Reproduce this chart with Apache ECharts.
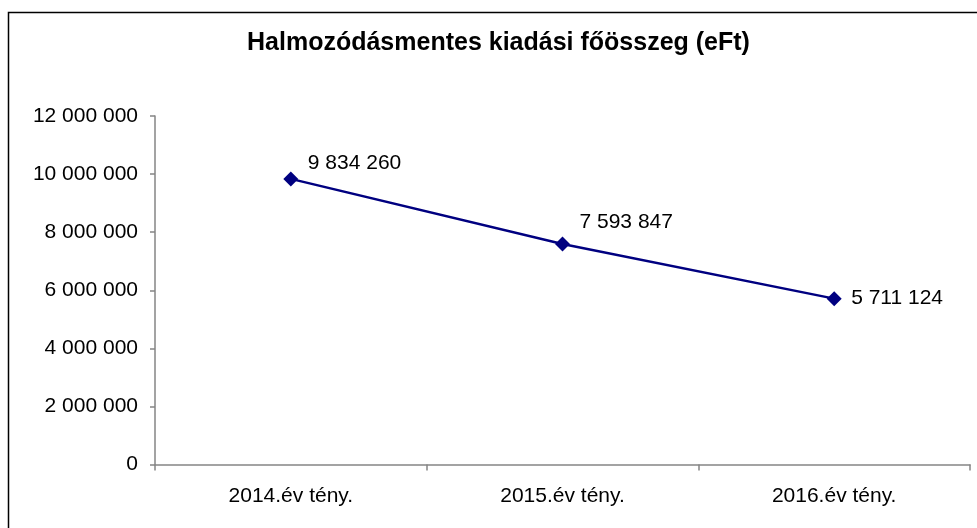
<!DOCTYPE html>
<html>
<head>
<meta charset="utf-8">
<script src="https://cdn.jsdelivr.net/npm/echarts@6/dist/echarts.min.js"></script>
<style>
html,body{margin:0;padding:0;background:#fff;}
#chart{width:977px;height:528px;}
</style>
</head>
<body>
<div id="chart"></div>
<script>
const titleText = 'Halmozódásmentes kiadási főösszeg (eFt)';
const categories = ['2014.év tény.', '2015.év tény.', '2016.év tény.'];
const values = [9834260, 7593847, 5711124];
const yMin = 0, yMax = 12000000, yStep = 2000000;

// label placement (style, not data)
const labelPlacement = [
  {position: 'right', offset: [0, -16]},
  {position: 'right', offset: [0, -22]},
  {position: 'right', offset: [0, 0]}
];

const fmt = v => String(Math.round(v)).replace(/\B(?=(\d{3})+(?!\d))/g, ' ');
const FONT = '"Liberation Sans", Arial, sans-serif';

const chart = echarts.init(document.getElementById('chart'), null, {renderer: 'canvas'});
chart.setOption({
  animation: false,
  backgroundColor: '#fff',
  graphic: [{
    type: 'rect',
    shape: {x: 8.5, y: 12.5, width: 1200, height: 1200},
    style: {fill: 'none', stroke: '#000', lineWidth: 1.5},
    silent: true, z: -1
  }],
  title: {
    text: titleText,
    left: 247, top: 31, padding: 0,
    textStyle: {fontFamily: FONT, fontSize: 25, fontWeight: 'bold', color: '#000'}
  },
  grid: {left: 155, right: 7, top: 116, bottom: 63.5, containLabel: false},
  xAxis: {
    type: 'category',
    data: categories,
    boundaryGap: true,
    axisLine: {lineStyle: {color: '#858585', width: 1.5}},
    axisTick: {show: true, length: 6, lineStyle: {color: '#858585', width: 1.5}},
    axisLabel: {fontFamily: FONT, fontSize: 21, color: '#000', margin: 21}
  },
  yAxis: {
    type: 'value',
    min: yMin, max: yMax, interval: yStep,
    axisLine: {show: true, lineStyle: {color: '#858585', width: 1.5}},
    axisTick: {show: true, length: 5, lineStyle: {color: '#858585', width: 1.5}},
    splitLine: {show: false},
    axisLabel: {fontFamily: FONT, fontSize: 21, color: '#000', margin: 17, formatter: fmt}
  },
  series: [{
    type: 'line',
    data: values.map((v, i) => ({
      value: v,
      label: {position: labelPlacement[i].position, offset: labelPlacement[i].offset}
    })),
    symbol: 'diamond',
    symbolSize: 15,
    lineStyle: {color: '#000080', width: 2.5},
    itemStyle: {color: '#000080'},
    label: {
      show: true,
      distance: 9.5,
      fontFamily: FONT, fontSize: 21, color: '#000',
      formatter: p => fmt(p.value)
    }
  }]
});
</script>
</body>
</html>
